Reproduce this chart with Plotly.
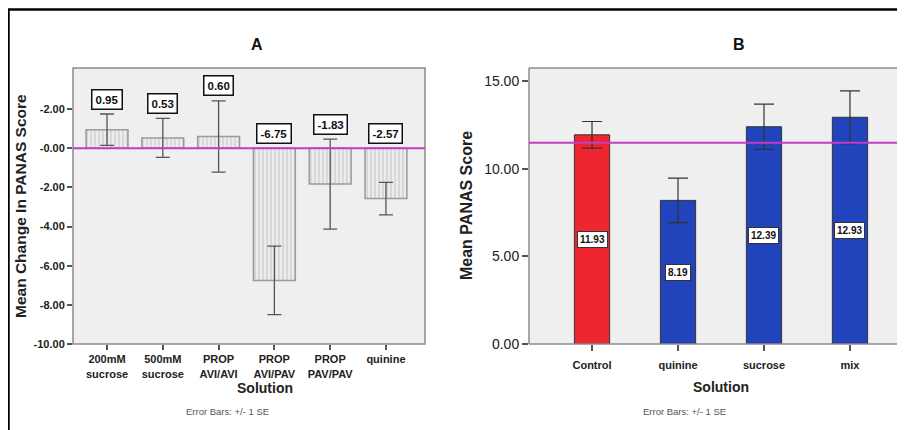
import plotly.graph_objects as go

# ---- Data ----
a_categories = ["200mM<br>sucrose", "500mM<br>sucrose", "PROP<br>AVI/AVI", "PROP<br>AVI/PAV", "PROP<br>PAV/PAV", "quinine"]
a_means = [0.95, 0.53, 0.60, -6.75, -1.83, -2.57]
a_se = [0.80, 1.00, 1.82, 1.75, 2.30, 0.83]
a_tickvals = [2, 0, -2, -4, -6, -8, -10]
a_ticktext = ["-2.00", "-0.00", "-2.00", "-4.00", "-6.00", "-8.00", "-10.00"]
a_refline = 0.0

b_categories = ["Control", "quinine", "sucrose", "mix"]
b_means = [11.93, 8.19, 12.39, 12.93]
b_se = [0.76, 1.27, 1.29, 1.50]
b_colors = ["#ee2630", "#2143bb", "#2143bb", "#2143bb"]
b_tickvals = [0, 5, 10, 15]
b_ticktext = ["0.00", "5.00", "10.00", "15.00"]
b_refline = 11.47

# page has an 8px body margin; work in page pixels and convert
OFF = 8
W, H = 905 - OFF, 430 - OFF
FONT = "Liberation Sans, Arial, sans-serif"

def px_x(p):
    return (p - OFF) / W

def px_y(p):
    return 1 - (p - OFF) / H

fig = go.Figure()

ax_idx = list(range(len(a_categories)))
bx_idx = list(range(len(b_categories)))

fig.add_trace(go.Bar(
    x=ax_idx, y=a_means, width=0.75,
    marker=dict(color="#e9e9e9", line=dict(color="#9a9a9a", width=1.5),
                pattern=dict(shape="|", fgcolor="#c4c4c4", bgcolor="#ececec", size=4, solidity=0.25)),
    error_y=dict(type="data", array=a_se, visible=True, color="#555555", thickness=1.3, width=7),
    xaxis="x", yaxis="y", showlegend=False, hoverinfo="skip",
))

fig.add_trace(go.Bar(
    x=bx_idx, y=b_means, width=0.41,
    marker=dict(color=b_colors, line=dict(color="#333333", width=1)),
    error_y=dict(type="data", array=b_se, visible=True, color="#333333", thickness=1.2, width=10),
    xaxis="x2", yaxis="y2", showlegend=False, hoverinfo="skip",
))

ydom = [px_y(344), px_y(68)]

fig.update_layout(
    template="none",
    width=W, height=H,
    margin=dict(l=0, r=0, t=0, b=0, pad=0),
    paper_bgcolor="white",
    plot_bgcolor="#efefef",
    font=dict(family=FONT, color="#222222"),
    xaxis=dict(domain=[px_x(73), px_x(425)], range=[-0.61, 5.70], automargin=False,
               tickvals=ax_idx, ticktext=a_categories, ticks="outside", ticklen=5,
               tickcolor="#555555", tickwidth=1.5,
               tickfont=dict(size=11, family=FONT, color="#222222", weight="bold"),
               showgrid=False, zeroline=False, showline=False, anchor="y"),
    yaxis=dict(domain=ydom, range=[-10, 4.1], automargin=False,
               tickvals=a_tickvals, ticktext=a_ticktext, ticks="outside", ticklen=5,
               tickcolor="#555555", tickwidth=1.5,
               tickfont=dict(size=11, family=FONT, color="#222222", weight="bold"),
               showgrid=False, zeroline=False, showline=False, anchor="x"),
    xaxis2=dict(domain=[px_x(529), 1.0], range=[-0.733, 3.64], automargin=False,
                tickvals=bx_idx, ticktext=b_categories, ticks="outside", ticklen=6,
                tickcolor="#555555", tickwidth=1.5, ticklabelstandoff=5,
                tickfont=dict(size=11, family=FONT, color="#222222", weight="bold"),
                showgrid=False, zeroline=False, showline=False, anchor="y2"),
    yaxis2=dict(domain=ydom, range=[0, 15.74], automargin=False,
                tickvals=b_tickvals, ticktext=b_ticktext, ticks="outside", ticklen=6,
                tickcolor="#555555", tickwidth=1.5,
                tickfont=dict(size=14, family=FONT, color="#222222"),
                showgrid=False, zeroline=False, showline=False, anchor="x2"),
)

shapes = []
shapes.append(dict(type="rect", xref="x domain", yref="y domain", x0=0, x1=1, y0=0, y1=1,
                   line=dict(color="#8c8c8c", width=1.5), layer="above"))
for (x0, y0, x1, y1) in ((0, 0, 0, 1), (0, 1, 1, 1), (0, 0, 1, 0)):
    shapes.append(dict(type="line", xref="x2 domain", yref="y2 domain", x0=x0, y0=y0, x1=x1, y1=y1,
                       line=dict(color="#8c8c8c", width=1.5), layer="above"))
shapes.append(dict(type="line", xref="x domain", yref="y", x0=0, x1=1, y0=a_refline, y1=a_refline,
                   line=dict(color="#c23cc8", width=2), layer="above"))
shapes.append(dict(type="line", xref="x2 domain", yref="y2", x0=0, x1=1, y0=b_refline, y1=b_refline,
                   line=dict(color="#c23cc8", width=2), layer="above"))
shapes.append(dict(type="line", xref="paper", yref="paper", x0=px_x(8), x1=1, y0=px_y(9.5), y1=px_y(9.5),
                   line=dict(color="black", width=2.5)))
shapes.append(dict(type="line", xref="paper", yref="paper", x0=px_x(8.5), x1=px_x(8.5), y0=px_y(9), y1=0,
                   line=dict(color="black", width=2.5)))
fig.update_layout(shapes=shapes)

def note(x, y, text, size, color="#222222", angle=0, **kw):
    d = dict(x=px_x(x), y=px_y(y), xref="paper", yref="paper", text=text, showarrow=False,
             xanchor="center", yanchor="middle", textangle=angle,
             font=dict(size=size, family=FONT, color=color))
    d.update(kw)
    return d

ann = []
for i, (m, s) in enumerate(zip(a_means, a_se)):
    ann.append(dict(x=i, y=max(m + s, 0), xref="x", yref="y", text=f"<b>{m:.2f}</b>",
                    showarrow=False, yshift=15, xanchor="center", yanchor="middle",
                    font=dict(size=11.5, family=FONT, color="#111111"),
                    bgcolor="white", bordercolor="#111111", borderwidth=1.5, borderpad=3))
for i, m in enumerate(b_means):
    ann.append(dict(x=i, y=m / 2, xref="x2", yref="y2", text=f"<b>{m:.2f}</b>",
                    showarrow=False, xanchor="center", yanchor="middle",
                    font=dict(size=10, family=FONT, color="#111111"),
                    bgcolor="white", bordercolor="#333333", borderwidth=1, borderpad=2))
ann.append(note(257, 45, "<b>A</b>", 16, "#111111"))
ann.append(note(739, 45, "<b>B</b>", 16, "#111111"))
ann.append(note(20, 206, "<b>Mean Change In PANAS Score</b>", 15.5, angle=-90))
ann.append(note(466, 206, "<b>Mean PANAS Score</b>", 16, angle=-90))
ann.append(note(265, 388, "<b>Solution</b>", 14))
ann.append(note(721, 387, "<b>Solution</b>", 14))
ann.append(note(227, 411, "Error Bars: +/- 1 SE", 9.5, "#555555"))
ann.append(note(684, 411, "Error Bars: +/- 1 SE", 9.5, "#555555"))
fig.update_layout(annotations=ann)

fig.write_html("out.html")
